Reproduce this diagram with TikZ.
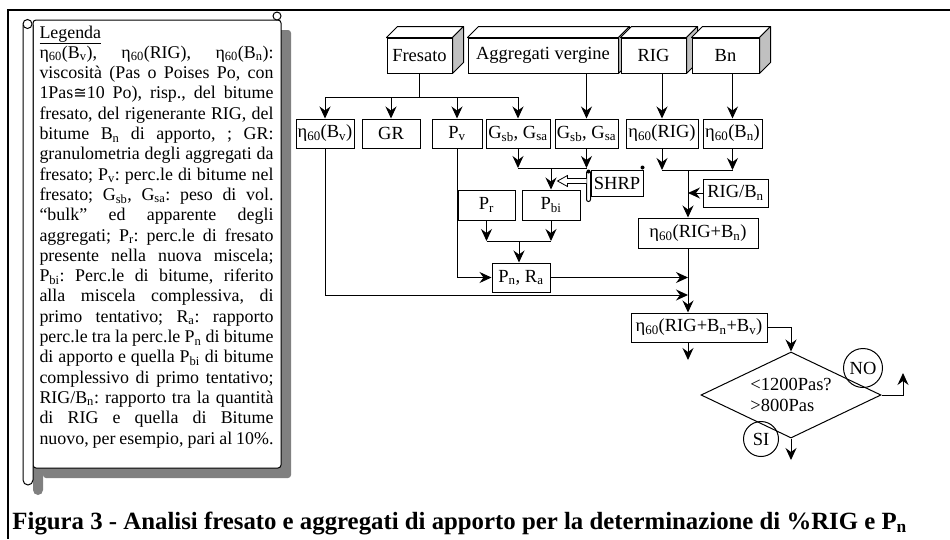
\documentclass[tikz,border=0pt]{standalone}
\usepackage{fontspec}
\setmainfont{Liberation Serif}
\newfontfamily\symbfont[Scale=0.9]{DejaVu Sans}
\usetikzlibrary{shapes.geometric, arrows.meta, positioning}

\definecolor{sidegray}{RGB}{192,192,192}
\definecolor{shadowgray}{RGB}{128,128,128}
\newcommand{\visc}{η\textsubscript{60}}
\newcommand{\legfont}{\fontsize{17.9}{20.3}\selectfont}
\newcommand{\boxfont}{\fontsize{18.5}{21}\selectfont}
\newcommand{\capfont}{\fontsize{24.8}{28}\selectfont\bfseries}

\begin{document}
\begin{tikzpicture}[
	x=1pt, y=-1pt, line width=1pt,
	box/.style={draw, fill=white, minimum height=29pt, inner sep=0pt, font=\boxfont},
	face/.style={draw, fill=white, line join=round},
	side/.style={face, fill=sidegray},
	dia/.style={draw, diamond, aspect=2.09, minimum width=180pt, minimum height=86pt, inner sep=0pt, align=left, font=\boxfont},
	ring/.style={draw, circle, inner sep=0pt, font=\boxfont},
	>={Stealth[length=12pt, width=11pt, inset=4pt]}
	]
	\useasboundingbox (0,0) rectangle (950,539);
	\draw[line width=2.5pt] (950,10) -- (8,10) -- (8,539);
	
	% legend scroll
	\fill[shadowgray, rounded corners=3] (43,30) rectangle (291,478);
	\fill[shadowgray] (33,40) -- (33,490) arc (180:0:5) -- (43,40) -- cycle;
	\draw[fill=white, rounded corners=3] (33,20) rectangle (281,468);
	\draw[fill=white] (23,25) -- (23,480) arc (180:0:5) -- (33,25);
	\draw[fill=white] (27.5,24) circle (4.5);
	\draw[fill=white] (277,16) circle (4);
	\node[anchor=base west, text width=234pt, inner sep=0pt, align=justify, font=\legfont] (leg) at (39,38)
	{\frenchspacing\tolerance=10000\lineskiplimit=-20pt
	\underline{Legenda}\\
	\visc(B\textsubscript{v}), \visc(RIG), \visc(B\textsubscript{n}):\linebreak
	viscosità (Pas o Poises Po, con\linebreak
	1Pas{\symbfont ≅}10 Po), risp., del bitume\linebreak
	fresato, del rigenerante RIG, del\linebreak
	bitume B\textsubscript{n} di apporto, ; GR:\linebreak
	granulometria degli aggregati da\linebreak
	fresato; P\textsubscript{v}: perc.le di bitume nel\linebreak
	fresato; G\textsubscript{sb}, G\textsubscript{sa}: peso di vol.\linebreak
	“bulk” ed apparente degli\linebreak
	aggregati; P\textsubscript{r}: perc.le di fresato\linebreak
	presente nella nuova miscela;\linebreak
	P\textsubscript{bi}: Perc.le di bitume, riferito\linebreak
	alla miscela complessiva, di\linebreak
	primo tentativo; R\textsubscript{a}: rapporto\linebreak
	perc.le tra la perc.le P\textsubscript{n} di bitume\linebreak
	di apporto e quella P\textsubscript{bi} di bitume\linebreak
	complessivo di primo tentativo;\linebreak
	RIG/B\textsubscript{n}: rapporto tra la quantità\linebreak
	di RIG e quella di Bitume\linebreak
	nuovo, per esempio, pari al 10\%.};
	
	% materials
	\node[box, minimum width=65pt, minimum height=35pt] (fres) at (419.5,55.5) {Fresato};
	\draw[face] (fres.north west) -- ++(11,-11) -- ([shift={(11,-11)}]fres.north east) -- (fres.north east) -- cycle;
	\draw[side] (fres.north east) -- ++(11,-11) -- ([shift={(11,-11)}]fres.south east) -- (fres.south east) -- cycle;
	\node[box, minimum width=150pt, minimum height=35pt] (agg) at (543,55.5) {Aggregati vergine};
	\draw[face] (agg.north west) -- ++(11,-11) -- ([shift={(11,-11)}]agg.north east) -- (agg.north east) -- cycle;
	\draw[side] (agg.north east) -- ++(11,-11) -- ([shift={(11,-11)}]agg.south east) -- (agg.south east) -- cycle;
	\node[box, minimum width=65pt, minimum height=35pt] (rig) at (653.5,55.5) {RIG};
	\draw[face] (rig.north west) -- ++(11,-11) -- ([shift={(11,-11)}]rig.north east) -- (rig.north east) -- cycle;
	\draw[side] (rig.north east) -- ++(11,-11) -- ([shift={(11,-11)}]rig.south east) -- (rig.south east) -- cycle;
	\node[box, minimum width=67pt, minimum height=35pt] (bn) at (725.5,55.5) {Bn};
	\draw[face] (bn.north west) -- ++(11,-11) -- ([shift={(11,-11)}]bn.north east) -- (bn.north east) -- cycle;
	\draw[side] (bn.north east) -- ++(11,-11) -- ([shift={(11,-11)}]bn.south east) -- (bn.south east) -- cycle;
	
	% measures
	\node[box, minimum width=58pt] (etabv) at (325,133.5) {\visc(B\textsubscript{v})};
	\node[box, minimum width=58pt] (gr) at (391,133.5) {GR};
	\node[box, minimum width=50pt] (pv) at (457,133.5) {P\textsubscript{v}};
	\node[box, minimum width=64pt] (gsba) at (518,133.5) {G\textsubscript{sb}, G\textsubscript{sa}};
	\node[box, minimum width=63pt] (gsbb) at (586.5,133.5) {G\textsubscript{sb}, G\textsubscript{sa}};
	\node[box, minimum width=72pt] (etarig) at (662,133.5) {\visc(RIG)};
	\node[box, minimum width=59pt] (etabn) at (732.5,133.5) {\visc(B\textsubscript{n})};
	
	\node[box, minimum width=57pt, minimum height=30pt] (pr) at (486.5,205) {P\textsubscript{r}};
	\node[box, minimum width=58pt, minimum height=30pt] (pbi) at (551,205) {P\textsubscript{bi}};
	\node[box, minimum width=52pt, minimum height=26pt] (shrp) at (617,183) {SHRP};
	\draw[fill=white] ([shift={(-4,2)}]shrp.north west) -- ([shift={(-4,3)}]shrp.south west) arc (180:0:2) -- ([shift={(0,2)}]shrp.north west);
	\fill ([shift={(-2,2)}]shrp.north west) circle (2);
	\fill ([shift={(-1,-2)}]shrp.north east) circle (2);
	\node[box, minimum width=65pt, minimum height=28pt] (rigbn) at (735.5,193) {RIG/B\textsubscript{n}};
	\node[box, minimum width=58pt] (pn) at (521,277.5) {P\textsubscript{n}, R\textsubscript{a}};
	\node[box, minimum width=120pt, minimum height=30pt] (etarb) at (698,233) {\visc(RIG+B\textsubscript{n})};
	\node[box, minimum width=136pt] (etarbv) at (699,327.5) {\visc(RIG+B\textsubscript{n}+B\textsubscript{v})};
	\node[dia] (dia) at (791,395) {<1200Pas?\\>800Pas};
	\node[ring, minimum size=39pt] (no) at (863,368) {NO};
	\node[ring, minimum size=35pt] (si) at (761,439) {SI};
	
	% connectors
	\coordinate (fbus) at (419.5,97);
	\draw (fres.south) -- (fbus);
	\draw (etabv.north |- fbus) -- (gsba.north |- fbus);
	\draw[->] (etabv.north |- fbus) -- (etabv.north);
	\draw[->] (gr.north |- fbus) -- (gr.north);
	\draw[->] (pv.north |- fbus) -- (pv.north);
	\draw[->] (gsba.north |- fbus) -- (gsba.north);
	\draw[->] (agg.south -| gsbb.north) -- (gsbb.north);
	\draw[->] (rig.south -| etarig.north) -- (etarig.north);
	\draw[->] (bn.south -| etabn.north) -- (etabn.north);
	
	\coordinate (gbus) at (551,168);
	\draw[->] (gsba.south) -- (gsba.south |- gbus);
	\draw[->] (gsbb.south) -- (gsbb.south |- gbus);
	\draw (gsba.south |- gbus) -- (gsbb.south |- gbus);
	\draw[->] (gbus) -- (pbi.north);
	\draw[fill=white, line width=0.8pt] ([shift={(-4,-4.5)}]shrp.west) -- ++(-19,0) -- ++(0,-3) -- ++(-10,5.5) -- ++(10,5.5) -- ++(0,-3) -- ++(19,0);
	
	\coordinate (pbus) at (519,241);
	\draw[->] (pr.south) -- (pr.south |- pbus);
	\draw[->] (pbi.south) -- (pbi.south |- pbus);
	\draw (pr.south |- pbus) -- (pbi.south |- pbus);
	\draw[->] (pbus) -- (pbus |- pn.north);
	\draw[->] (pv.south) |- (pn.west);
	
	\coordinate (spine) at (688,170);
	\draw[->] (etarig.south) -- (etarig.south |- spine);
	\draw[->] (etabn.south) -- (etabn.south |- spine);
	\draw (etarig.south |- spine) -- (etabn.south |- spine);
	\draw[->] (spine) -- (spine |- etarb.north);
	\draw[->] (rigbn.west) -- (rigbn.west -| spine);
	\draw[->] (etarb.south -| spine) -- (etarbv.north -| spine);
	\draw[->] (pn.east) -- (pn.east -| spine);
	\coordinate (bvin) at (688,295);
	\draw[->] (etabv.south) |- (bvin);
	\coordinate (down) at (688,360);
	\draw[->] (etarbv.south -| down) -- (down);
	\draw[->] (etarbv.east) -| (dia.north);
	\coordinate (noout) at (903,373);
	\draw[->] (dia.east) -| (noout);
	\coordinate (siout) at (791,460);
	\draw[->] (dia.south) -- (siout);
	
	\node[anchor=base west, inner sep=0pt, font=\capfont] (cap) at (12,529)
	{Figura 3 - Analisi fresato e aggregati di apporto per la determinazione di \%RIG e P\textsubscript{n}};
\end{tikzpicture}
\end{document}
